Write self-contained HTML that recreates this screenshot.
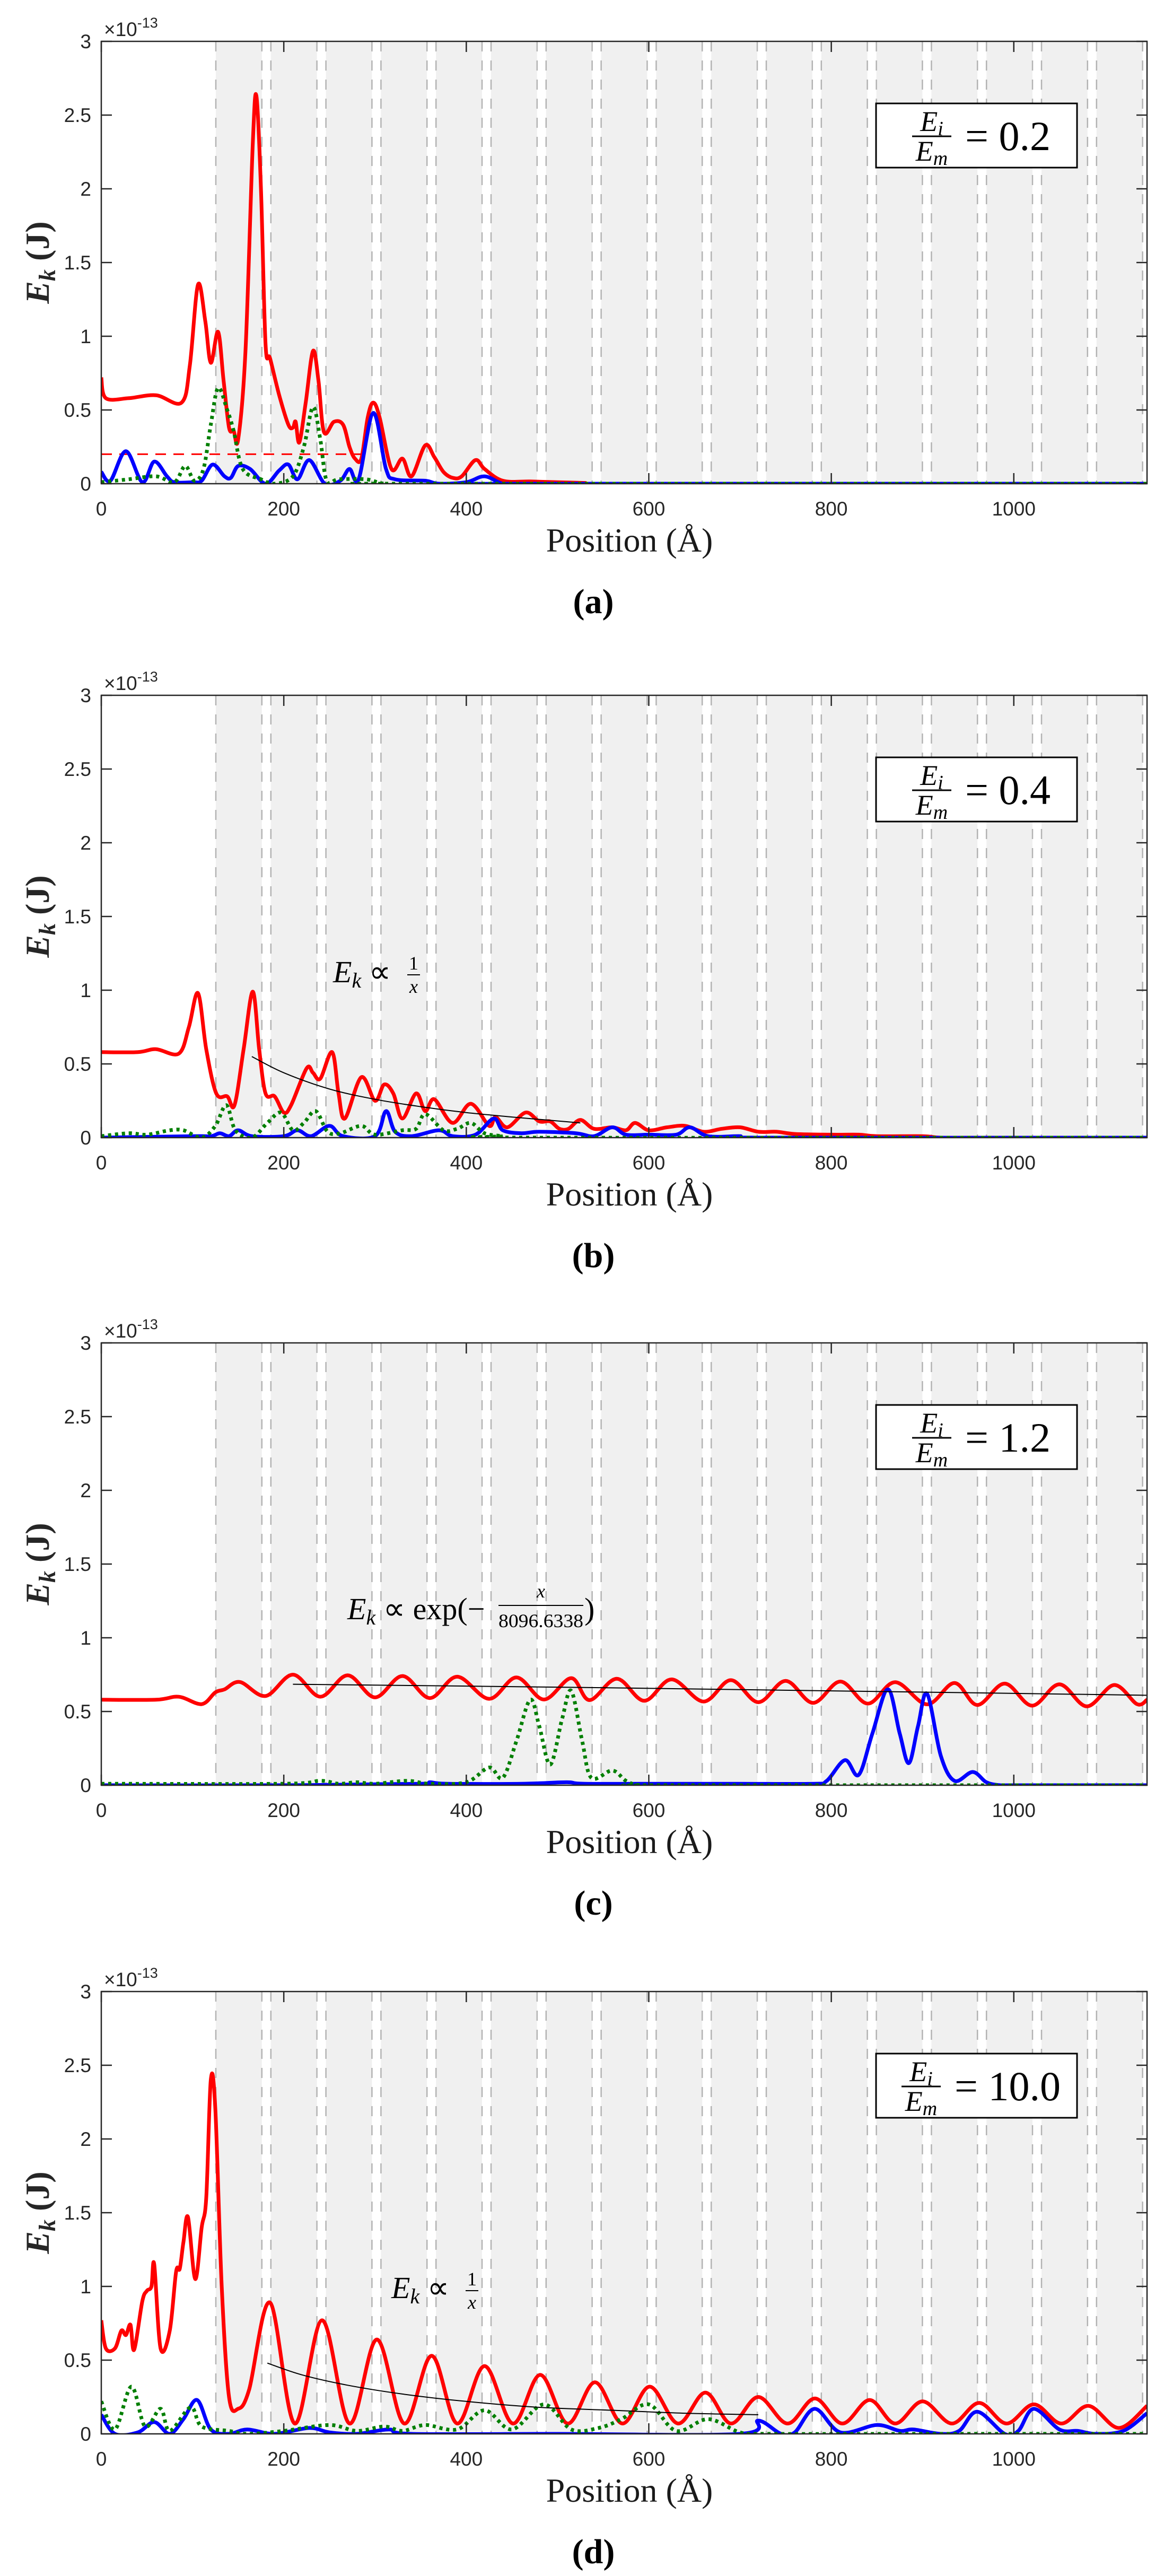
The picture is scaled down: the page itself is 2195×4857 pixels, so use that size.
<!DOCTYPE html>
<html><head><meta charset="utf-8"><style>
html,body{margin:0;padding:0;background:#fff}
svg{display:block}
.tk{font-family:"Liberation Sans",sans-serif;font-size:37px;fill:#262626}
.ser{font-family:"Liberation Serif",serif}
</style></head><body>
<svg id="s" width="2195" height="4857" viewBox="0 0 2195 4857" xmlns="http://www.w3.org/2000/svg"></svg>
<script>
const S=document.getElementById('s');
const L=191,R=2163,H=834,XM=1146;
const sx=u=>L+u*(R-L)/XM;
function add(h){S.insertAdjacentHTML('beforeend',h);}
function cr(pts,T){
  const p=pts.map(a=>[sx(a[0]),T+H-a[1]*278]);
  let d='M'+p[0][0].toFixed(1)+','+p[0][1].toFixed(1);
  for(let i=0;i<p.length-1;i++){
    const p0=p[Math.max(0,i-1)],p1=p[i],p2=p[i+1],p3=p[Math.min(p.length-1,i+2)];
    const c1=[p1[0]+(p2[0]-p0[0])/6,p1[1]+(p2[1]-p0[1])/6];
    const c2=[p2[0]-(p3[0]-p1[0])/6,p2[1]-(p3[1]-p1[1])/6];
    d+='C'+c1.map(v=>v.toFixed(1))+' '+c2.map(v=>v.toFixed(1))+' '+p2[0].toFixed(1)+','+p2[1].toFixed(1);
  }
  return d;
}
function ext(pts){const l=pts[pts.length-1][0];if(l<XM)pts.push([XM,0]);return pts;}
function frac(x,y,txt,num,den,fw){
  // txt = leading text, fraction placed at x+offset
  return txt;
}
function panel(T,id,ratio,red,blue,green,fit,ann,extra,boxDy){
  add(`<clipPath id="c${id}"><rect x="${L}" y="${T}" width="${R-L}" height="${H}"/></clipPath>`);
  let g='';
  for(let k=0;k<17;k++){
    const a=407+103.8*k,b=Math.min(a+86.8,R);
    g+=`<rect x="${a}" y="${T}" width="${b-a}" height="${H}" fill="#f0f0f0"/>`;
    g+=`<line x1="${a}" y1="${T}" x2="${a}" y2="${T+H}" stroke="#b3b3b3" stroke-width="2.5" stroke-dasharray="19 17"/>`;
    if(a+86.8<R) g+=`<line x1="${a+86.8}" y1="${T}" x2="${a+86.8}" y2="${T+H}" stroke="#b3b3b3" stroke-width="2.5" stroke-dasharray="19 17"/>`;
  }
  add(g);
  let c=`<g clip-path="url(#c${id})" fill="none" stroke-linejoin="round">`;
  if(extra) c+=extra;
  c+=`<path d="${cr(ext(red),T)}" stroke="#ff0000" stroke-width="7"/>`;
  c+=`<path d="${cr(ext(blue),T)}" stroke="#0000ff" stroke-width="7"/>`;
  c+=`<path d="${cr(ext(green),T)}" stroke="#007f00" stroke-width="7" stroke-dasharray="6 7"/>`;
  if(fit) c+=`<path d="${cr(fit,T)}" stroke="#000" stroke-width="2"/>`;
  c+='</g>';
  add(c);
  let a=`<rect x="${L}" y="${T}" width="${R-L}" height="${H}" fill="none" stroke="#262626" stroke-width="2.5"/>`;
  for(let v=0;v<=3;v+=0.5){const y=T+H-v*278;
    a+=`<line x1="${L}" y1="${y}" x2="${L+20}" y2="${y}" stroke="#262626" stroke-width="2.5"/><line x1="${R-20}" y1="${y}" x2="${R}" y2="${y}" stroke="#262626" stroke-width="2.5"/>`;
    a+=`<text class="tk" x="172" y="${y+13}" text-anchor="end">${v}</text>`;}
  for(let u=0;u<=1000;u+=200){const x=sx(u);
    a+=`<line x1="${x}" y1="${T}" x2="${x}" y2="${T+20}" stroke="#262626" stroke-width="2.5"/><line x1="${x}" y1="${T+H-20}" x2="${x}" y2="${T+H}" stroke="#262626" stroke-width="2.5"/>`;
    a+=`<text class="tk" x="${x}" y="${T+894}" text-anchor="middle">${u}</text>`;}
  a+=`<text class="tk" x="196" y="${T-10}" font-size="36">×10<tspan font-size="27" dy="-16">-13</tspan></text>`;
  a+=`<text class="ser" x="1187" y="${T+962}" font-size="64" text-anchor="middle" fill="#1a1a1a">Position (Å)</text>`;
  a+=`<text class="ser" x="1119" y="${T+1078}" font-size="66" font-weight="bold" text-anchor="middle" fill="#000">(${id})</text>`;
  a+=`<text class="ser" transform="translate(92 ${T+417}) rotate(-90)" font-size="64" font-weight="bold" text-anchor="middle" fill="#262626"><tspan font-style="italic">E</tspan><tspan font-style="italic" font-size="44" dy="12">k</tspan><tspan dy="-12">  (J)</tspan></text>`;
  const by=T+117+(boxDy||0);
  a+=`<rect x="1652" y="${by}" width="379" height="121" fill="#fff" stroke="#000" stroke-width="3"/>`;
  const fx=ratio.length>3?1700:1720, ex=ratio.length>3?1800:1820;
  a+=`<text class="ser" x="${fx+37}" y="${by+52}" font-size="54" font-style="italic" text-anchor="middle">E<tspan font-size="38" dy="8">i</tspan></text>`;
  a+=`<line x1="${fx}" y1="${by+62}" x2="${fx+74}" y2="${by+62}" stroke="#000" stroke-width="3"/>`;
  a+=`<text class="ser" x="${fx+37}" y="${by+108}" font-size="54" font-style="italic" text-anchor="middle">E<tspan font-size="38" dy="8">m</tspan></text>`;
  a+=`<text class="ser" x="${ex}" y="${by+88}" font-size="78">= ${ratio}</text>`;
  if(ann) a+=ann;
  add(a);
}
function ek(x,y,rest){return `<text class="ser" x="${x}" y="${y}" font-size="58" font-style="italic">E<tspan font-size="40" dy="10">k</tspan><tspan dy="-10" font-style="normal"> ∝ ${rest}</tspan></text>`;}
function onex(cx,y){return `<text class="ser" x="${cx}" y="${y-18}" font-size="36" text-anchor="middle">1</text><line x1="${cx-12}" y1="${y-8}" x2="${cx+12}" y2="${y-8}" stroke="#000" stroke-width="2"/><text class="ser" x="${cx}" y="${y+26}" font-size="36" font-style="italic" text-anchor="middle">x</text>`;}
// Panel a
panel(78,'a','0.2',
[[0,0.72],[5,0.58],[30,0.58],[60,0.6],[88,0.55],[97,0.8],[106,1.35],[114,1.1],[120,0.82],[128,1.03],[134,0.7],[140,0.38],[145,0.36],[150,0.3],[158,0.9],[166,2.3],[170,2.63],[175,2.0],[180,0.95],[185,0.85],[195,0.6],[205,0.4],[210,0.38],[213,0.42],[217,0.28],[224,0.55],[232,0.9],[238,0.7],[244,0.35],[255,0.42],[265,0.4],[272,0.25],[278,0.17],[285,0.17],[292,0.45],[298,0.55],[305,0.45],[318,0.1],[330,0.17],[340,0.05],[355,0.26],[365,0.18],[375,0.08],[385,0.04],[395,0.05],[410,0.16],[420,0.1],[440,0.02],[470,0.015],[500,0.01],[530,0.005],[560,0]],
[[0,0.08],[10,0.02],[27,0.22],[45,0.01],[58,0.15],[72,0.05],[80,0.01],[100,0.01],[110,0.02],[122,0.13],[135,0.05],[142,0.04],[150,0.12],[163,0.1],[180,0.0],[195,0.09],[205,0.13],[215,0.03],[228,0.16],[245,0.0],[262,0.02],[272,0.1],[282,0.03],[298,0.48],[312,0.1],[322,0.03],[355,0.02],[370,0.0],[400,0.01],[420,0.05],[440,0.0],[460,0]],
[[0,0.01],[30,0.03],[60,0.05],[80,0.01],[92,0.12],[102,0.02],[112,0.1],[120,0.4],[128,0.65],[138,0.5],[145,0.36],[155,0.1],[175,0.03],[190,0.0],[210,0.05],[222,0.25],[232,0.52],[240,0.3],[247,0.02],[260,0.03],[290,0.03],[310,0.0],[340,0]],
null,null,
`<line x1="${L}" y1="${78+H-0.2*278}" x2="${sx(295)}" y2="${78+H-0.2*278}" stroke="#ff0000" stroke-width="3" stroke-dasharray="20 14"/>`);
// Panel b
panel(1311,'b','0.4',
[[0,0.58],[40,0.58],[60,0.6],[85,0.57],[96,0.75],[106,0.98],[115,0.6],[126,0.3],[138,0.28],[146,0.22],[156,0.6],[166,0.99],[173,0.6],[180,0.3],[190,0.28],[200,0.17],[208,0.22],[225,0.47],[232,0.44],[240,0.4],[253,0.58],[260,0.3],[267,0.13],[285,0.41],[300,0.25],[310,0.36],[320,0.3],[330,0.13],[345,0.3],[355,0.18],[365,0.26],[385,0.1],[405,0.23],[425,0.08],[432,0.14],[445,0.07],[465,0.17],[480,0.11],[492,0.11],[502,0.06],[512,0.06],[525,0.12],[540,0.06],[560,0.07],[575,0.05],[585,0.1],[600,0.05],[620,0.07],[640,0.08],[660,0.04],[680,0.06],[700,0.07],[720,0.04],[740,0.04],[760,0.025],[800,0.02],[830,0.02],[850,0.01],[900,0.01],[920,0],[960,0]],
[[0,0],[100,0.01],[120,0.01],[130,0.03],[140,0.01],[150,0.05],[165,0.01],[200,0.01],[215,0.05],[230,0.01],[250,0.08],[265,0.01],[300,0.01],[312,0.18],[322,0.04],[340,0.01],[370,0.05],[385,0.01],[410,0.02],[430,0.13],[440,0.05],[460,0.03],[480,0.04],[520,0.03],[540,0.01],[560,0.07],[575,0.02],[600,0.02],[630,0.02],[645,0.07],[665,0.01],[700,0.01],[720,0]],
[[0,0.01],[30,0.03],[50,0.02],[75,0.05],[90,0.05],[110,0.0],[125,0.08],[137,0.22],[147,0.05],[165,0.0],[182,0.1],[197,0.17],[210,0.05],[222,0.1],[235,0.18],[248,0.04],[262,0.03],[285,0.08],[300,0.02],[330,0.05],[345,0.06],[355,0.16],[375,0.05],[390,0.06],[405,0.1],[420,0.03],[440,0.01],[460,0]],
[[165,0.55],[200,0.44],[250,0.33],[300,0.26],[350,0.21],[400,0.17],[450,0.14],[525,0.1]],
ek(628,1852,'')+onex(780,1846));
// Panel c
(function(){
 const red=[[0,0.58],[60,0.58],[85,0.6],[110,0.55],[125,0.63],[135,0.65],[152,0.7]];
 const pk=[210,270,330,390,455,515,565,625,690,750,810,870,935,990,1050,1110];
 pk.forEach((x,i)=>{const m=0.685-0.07*(x-210)/900;red.push([x-30,m-0.08]);red.push([x,m+0.065]);});
 red.push([1135,0.55]);red.push([1146,0.58]);
 panel(2532,'c','1.2',red,
 [[0,0.0],[200,0.0],[350,0.01],[360,0.02],[380,0.01],[460,0.01],[510,0.02],[530,0.01],[620,0.01],[700,0.01],[780,0.01],[795,0.03],[815,0.17],[830,0.07],[845,0.35],[862,0.65],[875,0.35],[885,0.15],[895,0.4],[905,0.62],[920,0.2],[935,0.03],[955,0.09],[970,0.02],[985,0.0],[1000,0]],
 [[0,0.01],[200,0.01],[240,0.03],[260,0.01],[280,0.02],[300,0.01],[335,0.03],[360,0.01],[400,0.02],[425,0.12],[440,0.05],[455,0.3],[470,0.58],[480,0.4],[492,0.14],[505,0.45],[515,0.64],[527,0.3],[537,0.05],[560,0.1],[575,0.03],[590,0.0],[620,0]],
 [[210,0.685],[500,0.665],[800,0.64],[1146,0.61]],
 ek(655,3053,'exp(−')+`<text class="ser" x="1020" y="3012" font-size="36" font-style="italic" text-anchor="middle">x</text><line x1="940" y1="3027" x2="1100" y2="3027" stroke="#000" stroke-width="2"/><text class="ser" x="1020" y="3068" font-size="36" text-anchor="middle" textLength="160" lengthAdjust="spacingAndGlyphs">8096.6338</text><text class="ser" x="1102" y="3053" font-size="58">)</text>`);
})();
// Panel d
(function(){
 const red=[[0,0.77],[5,0.58],[15,0.58],[22,0.7],[27,0.67],[32,0.74],[36,0.57],[45,0.9],[50,0.97],[55,1.0],[58,1.15],[65,0.58],[75,0.7],[82,1.1],[86,1.12],[90,1.3],[95,1.47],[103,1.05],[110,1.4],[115,1.6],[120,2.4],[125,2.2],[132,1.0],[140,0.25],[150,0.17],[162,0.3],[185,0.89]];
 const pk=[[242,0.77],[302,0.64],[362,0.53],[420,0.46],[481,0.4],[541,0.35],[601,0.32],[662,0.28],[720,0.25],[782,0.24],[842,0.23],[900,0.22],[962,0.21],[1022,0.2],[1082,0.19]];
 pk.forEach(p=>{red.push([p[0]-30,0.07]);red.push(p);});
 red.push([1115,0.04]);red.push([1146,0.19]);
 panel(3755,'d','10.0',red,
 [[0,0.13],[15,0.0],[40,0.01],[58,0.08],[75,0.0],[90,0.1],[105,0.23],[120,0.03],[140,0.0],[160,0.03],[190,0.0],[228,0.04],[250,0.01],[280,0.0],[315,0.03],[340,0.0],[500,0.0],[700,0.0],[720,0.09],[745,0.0],[760,0.01],[782,0.17],[810,0.01],[850,0.06],[875,0.02],[890,0.03],[920,0.0],[940,0.02],[960,0.15],[990,0.0],[1005,0.02],[1022,0.17],[1050,0.03],[1070,0.02],[1090,0.0],[1120,0.02],[1146,0.14]],
 [[0,0.22],[15,0.03],[33,0.32],[48,0.05],[65,0.17],[75,0.02],[98,0.18],[110,0.05],[140,0.02],[160,0.0],[200,0.02],[250,0.06],[280,0.02],[310,0.05],[330,0.02],[355,0.06],[390,0.03],[420,0.16],[450,0.03],[485,0.2],[515,0.03],[545,0.04],[570,0.1],[600,0.2],[630,0.02],[665,0.1],[700,0.01],[730,0.0],[900,0]],
 [[182,0.48],[220,0.4],[270,0.33],[330,0.27],[400,0.22],[480,0.18],[560,0.16],[640,0.14],[720,0.13]],
 ek(738,4333,'')+onex(890,4327),null,0);
})();
</script>
</body></html>
